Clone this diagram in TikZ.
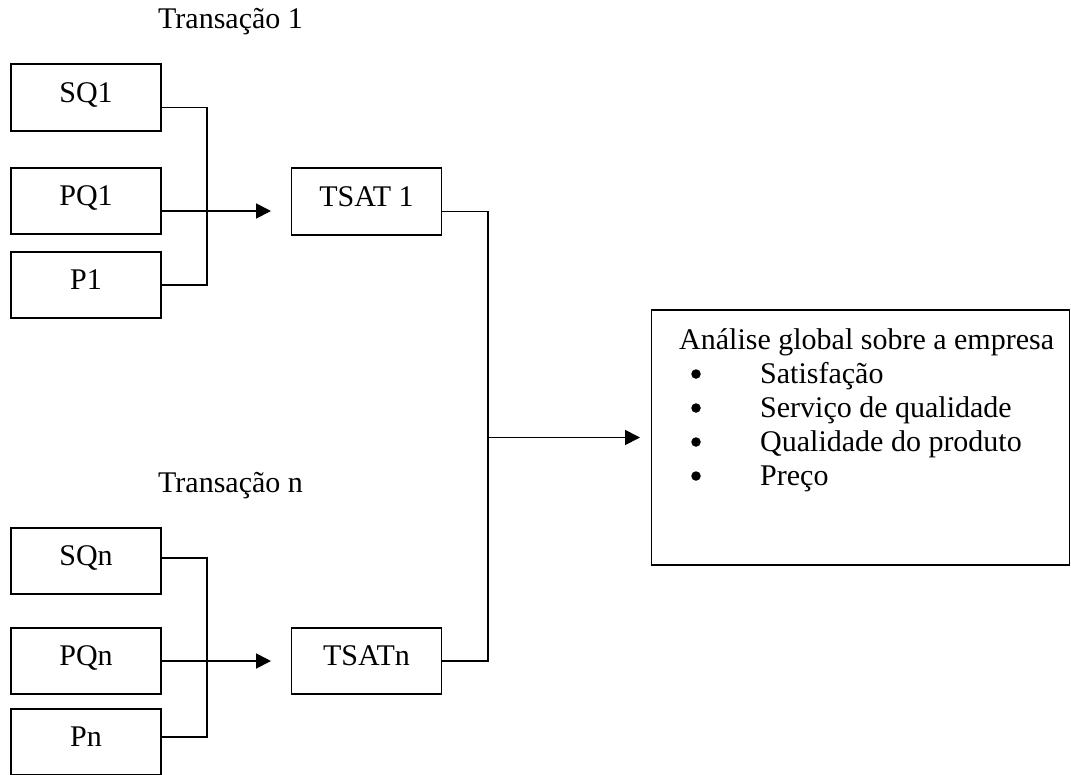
\documentclass[tikz,border=0pt]{standalone}
\usepackage{fontspec}
\setmainfont{Liberation Serif}
\usetikzlibrary{arrows.meta,calc}
\begin{document}
\begin{tikzpicture}[x=1pt,y=-1pt,
  txt/.style={font=\fontsize{30}{34}\selectfont},
  box/.style={draw,line width=1.8pt,minimum width=150pt,minimum height=66pt,inner sep=0pt,txt,text height=20pt,text depth=11pt},
  lbl/.style={inner sep=0pt,txt,anchor=base west},
  bul/.style={circle,fill=black,inner sep=0pt,minimum size=9.5pt},
  wire/.style={line width=1.8pt},
  arr/.style={wire,-{Triangle[length=15pt,width=15pt]}}]
\useasboundingbox (0,0) rectangle (1071,774);
% labels
\node[lbl] (t1) at (158,28) {Transação 1};
\node[lbl] (tn) at (158,492) {Transação n};
% transaction 1
\node[box,minimum height=67pt] (SQ1) at (86,97.5) {SQ1};
\node[box] (PQ1) at (86,201) {PQ1};
\node[box] (P1) at (86,285) {P1};
\node[box,minimum height=67pt] (TSAT1) at (366.5,201.5) {TSAT 1};
% transaction n
\node[box] (SQn) at (86,561) {SQn};
\node[box] (PQn) at (86,661) {PQn};
\node[box] (Pn) at (86,742) {Pn};
\node[box] (TSATn) at (366.5,661) {TSATn};
% result box
\node[draw,line width=1.8pt,minimum width=418pt,minimum height=255pt,inner sep=0pt] (A) at (860.5,437.5) {};
\node[lbl] (A0) at (679,349) {Análise global sobre a empresa};
\node[lbl] (A1) at (760,383) {Satisfação};
\node[lbl] (A2) at (760,417) {Serviço de qualidade};
\node[lbl] (A3) at (760,451) {Qualidade do produto};
\node[lbl] (A4) at (760,485) {Preço};
\node[bul] (B1) at (696,374) {};
\node[bul] (B2) at (696,408) {};
\node[bul] (B3) at (696,442) {};
\node[bul] (B4) at (696,476) {};
% ports
\coordinate (sq1p) at ([yshift=-10pt]SQ1.east);
\coordinate (pq1p) at ([yshift=-10pt]PQ1.east);
\coordinate (ts1p) at ([yshift=-10pt]TSAT1.east);
\coordinate (sqnp) at ([yshift=3pt]SQn.east);
\coordinate (pnp) at ([yshift=5pt]Pn.east);
% junction / tip coordinates
\coordinate (j1) at (207,0);
\coordinate (jt) at (488,0);
\coordinate (a1) at (271,0);
\coordinate (aA) at (640,0);
% transaction 1 wiring
\draw[wire] (sq1p) -| (j1 |- P1.east) -- (P1.east);
\draw[arr] (pq1p) -- (a1 |- pq1p);
% transaction n wiring
\draw[wire] (sqnp) -| (j1 |- pnp) -- (pnp);
\draw[arr] (PQn.east) -- (a1 |- PQn.east);
% to result
\draw[wire] (ts1p) -| (jt |- TSATn.east) -- (TSATn.east);
\draw[arr] (jt |- A.west) -- (aA |- A.west);
\end{tikzpicture}
\end{document}
